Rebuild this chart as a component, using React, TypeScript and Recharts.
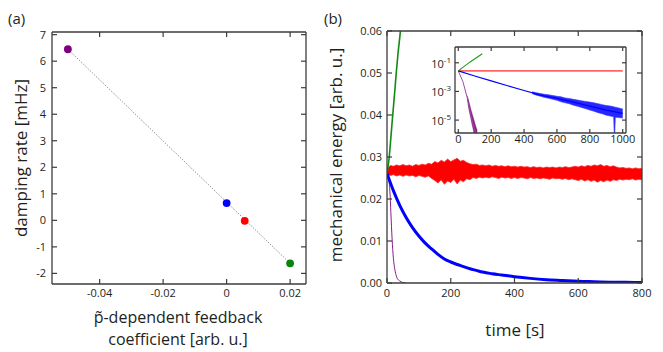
import React from 'react';
import { ComposedChart, Line, Area, Scatter, XAxis, YAxis, Cell } from 'recharts';

const FONT = '"Open Sans", "Noto Sans", sans-serif';
const INK = '#231f20';
const FRAME = '#3c3c3c';

// (a) damping rate vs feedback coefficient
const coeffs = [-0.05, 0, 0.0057, 0.02];
const damping = [6.45, 0.65, -0.02, -1.62];
const dotColors = ['#800080', '#0000ff', '#ff0000', '#0a840a'];
const fitX = [-0.05, 0.02];
const fitY = [6.45, -1.62];
const aTicksX = [-0.04, -0.02, 0, 0.02];
const aTicksY = [-2, -1, 0, 1, 2, 3, 4, 5, 6, 7];

// (b) mechanical energy vs time
const bTicksX = [0, 200, 400, 600, 800];
const bTicksY = [0, 0.01, 0.02, 0.03, 0.04, 0.05, 0.06];

const purpleT = [0, 4, 8, 10, 12, 14, 16, 18, 20, 24, 28, 32, 40, 50, 60];
const purpleE = [0.026, 0.025, 0.023, 0.0205, 0.017, 0.0135, 0.0105, 0.008, 0.0059, 0.0035, 0.002, 0.0011, 0.0005, 0.0001, 0];

const blueT = [0, 20, 40, 60, 80, 100, 120, 140, 160, 180, 200, 220, 240, 260, 280, 300, 330, 360, 400, 450, 500, 550, 600, 650, 700, 750, 800];
const blueE = [0.0261, 0.022, 0.0185, 0.0156, 0.0132, 0.0112, 0.0095, 0.0081, 0.0068, 0.0057, 0.005, 0.0044, 0.0039, 0.0034, 0.003, 0.0026, 0.0022, 0.0019, 0.0015, 0.0011, 0.0008, 0.0006, 0.0004, 0.0003, 0.0002, 0.00015, 0.0001];

const greenT = [0, 7, 12, 18, 24, 29, 35, 42, 45];
const greenE = [0.026, 0.03, 0.0345, 0.04, 0.0453, 0.05, 0.055, 0.06, 0.063];

// red trace: noise envelope read every 10 s
const redT = [
  0, 10, 20, 30, 40, 50, 60, 70, 80, 90, 100, 110, 120, 130, 140, 150, 160, 170, 180, 190,
  200, 210, 220, 230, 240, 250, 260, 270, 280, 290, 300, 310, 320, 330, 340, 350, 360, 370, 380, 390,
  400, 410, 420, 430, 440, 450, 460, 470, 480, 490, 500, 510, 520, 530, 540, 550, 560, 570, 580, 590,
  600, 610, 620, 630, 640, 650, 660, 670, 680, 690, 700, 710, 720, 730, 740, 750, 760, 770, 780, 790, 800,
];
const redLo = [
  0.0259, 0.0256, 0.0258, 0.0255, 0.0257, 0.0254, 0.0257, 0.0255, 0.0256, 0.0253, 0.0256, 0.0254, 0.0252, 0.0255, 0.0249, 0.0244, 0.0238, 0.0246, 0.0235, 0.0243,
  0.0239, 0.0247, 0.0236, 0.0245, 0.0241, 0.0248, 0.0246, 0.0251, 0.0249, 0.0252, 0.025, 0.0252, 0.025, 0.0253, 0.0251, 0.0249, 0.0252, 0.025, 0.0251, 0.0249,
  0.0251, 0.0249, 0.0251, 0.025, 0.0248, 0.0251, 0.0249, 0.025, 0.0248, 0.025, 0.0249, 0.0247, 0.025, 0.0248, 0.0249, 0.0247, 0.0249, 0.0246, 0.0248, 0.0246,
  0.0244, 0.0247, 0.0243, 0.0246, 0.0242, 0.0245, 0.024, 0.0244, 0.0241, 0.0245, 0.0242, 0.0246, 0.0244, 0.0247, 0.0245, 0.0247, 0.0246, 0.0248, 0.0245, 0.0247, 0.0246,
];
const redHi = [
  0.027, 0.028, 0.0278, 0.0281, 0.0279, 0.0282, 0.0279, 0.0281, 0.0278, 0.0282, 0.028, 0.0283, 0.0281, 0.0285, 0.0283, 0.0289, 0.0286, 0.0292, 0.0288, 0.0295,
  0.0289, 0.0293, 0.0297, 0.029, 0.0292, 0.0287, 0.0284, 0.0282, 0.0283, 0.028, 0.0281, 0.0279, 0.0281, 0.0278, 0.028, 0.0278, 0.0279, 0.0277, 0.0279, 0.0277,
  0.0278, 0.0276, 0.0278, 0.0276, 0.0277, 0.0275, 0.0277, 0.0275, 0.0276, 0.0274, 0.0276, 0.0275, 0.0276, 0.0274, 0.0276, 0.0275, 0.0277, 0.0275, 0.0276, 0.0278,
  0.0276, 0.0279, 0.0277, 0.028, 0.0278, 0.0281, 0.0279, 0.0282, 0.0278, 0.028, 0.0277, 0.0279, 0.0276, 0.0274, 0.0275, 0.0273, 0.0274, 0.0272, 0.0274, 0.0272, 0.0273,
];

// inset (log scale)
const inTicksX = [0, 200, 400, 600, 800, 1000];
const inTicksY = [1e-5, 1e-3, 1e-1];
const inRedT = [0, 1000];
const inRedE = [0.027, 0.027];
const inGreenT = [0, 70, 146];
const inGreenE = [0.027, 0.11, 0.43];
const inBlueT = [0, 100, 200, 300, 400, 500, 600, 700, 800, 900, 1000];
const inBlueE = [0.0269, 0.012, 0.0055, 0.00251, 0.00117, 0.00056, 0.00033, 0.000178, 0.0000955, 0.0000501, 0.0000295];
const inBlueBandT = [450, 475, 500, 525, 550, 575, 600, 625, 650, 675, 700, 725, 750, 775, 800, 825, 850, 875, 900, 925, 945, 950, 955, 975, 1000];
const inBlueLo = [6.9e-4, 5.5e-4, 4.6e-4, 3.8e-4, 3.3e-4, 2.8e-4, 2.4e-4, 1.9e-4, 1.6e-4, 1.4e-4, 1.1e-4, 9.1e-5, 7.6e-5, 6.3e-5, 5e-5, 4.2e-5, 3.3e-5, 2.8e-5, 2.2e-5, 1.9e-5, 1.7e-5, 3e-7, 1.6e-5, 1.5e-5, 1.4e-5];
const inBlueHi = [9.5e-4, 8.1e-4, 7.1e-4, 6.3e-4, 5.8e-4, 5.2e-4, 4.6e-4, 4.2e-4, 3.5e-4, 3.2e-4, 2.8e-4, 2.5e-4, 2.2e-4, 2e-4, 1.8e-4, 1.6e-4, 1.4e-4, 1.2e-4, 1.05e-4, 9.5e-5, 8.6e-5, 8.3e-5, 8e-5, 7.1e-5, 6e-5];
const inPurpleT = [0, 28, 58, 79, 95, 112];
const inPurpleE = [0.027, 0.0049, 0.00025, 0.000017, 0.000003, 0.0000009];
const inPurpleBandT = [55, 65, 75, 85, 95, 105, 115];
const inPurpleLo = [2.8e-4, 5.6e-5, 1.6e-5, 4.5e-6, 1.4e-6, 5e-7, 2.5e-7];
const inPurpleHi = [5e-4, 1.8e-4, 6.3e-5, 2.5e-5, 1e-5, 4e-6, 1.8e-6];

const pts = (xs: number[], ys: number[]) => xs.map((x, i) => ({ x, y: ys[i] }));
const band = (xs: number[], lo: number[], hi: number[]) => xs.map((x, i) => ({ x, y: [lo[i], hi[i]] }));

const axisLine = { stroke: FRAME, strokeWidth: 1.3 };
const tickLine = { stroke: FRAME, strokeWidth: 1.2 };
const tickStyle = { fontSize: 11, fill: INK, fontFamily: FONT };
const NoLabel = () => <g />;

const fmtA = (v: number) => (v === 0 ? '0' : v.toFixed(2));
const fmtB = (v: number) => v.toFixed(2);

const DotShape = (p: any) => <circle cx={p.cx} cy={p.cy} r={3.9} fill={p.fill} />;

const LogTick = (p: any) => (
  <text x={p.x} y={p.y} dy={5} textAnchor="end" fontSize={11} fontFamily={FONT} fill={INK}>
    10<tspan dy={-5} fontSize={8}>{Math.round(Math.log10(p.payload.value))}</tspan>
  </text>
);

// inward ticks on all four sides: negative tickSize, top/right axes carry no labels
const common = { type: 'number' as const, allowDataOverflow: true, interval: 0 as const, tickLine, axisLine };

const PanelA = () => (
  <ComposedChart width={330} height={352} margin={{ top: 31, right: 23, bottom: 48, left: 0 }}>
    <XAxis xAxisId="b" dataKey="x" domain={[-0.055, 0.025]} ticks={aTicksX} height={20} tickSize={-5} tickMargin={10} tick={tickStyle} tickFormatter={fmtA} {...common} />
    <XAxis xAxisId="t" orientation="top" dataKey="x" domain={[-0.055, 0.025]} ticks={aTicksX} height={1} tickSize={-5} tick={NoLabel} {...common} />
    <YAxis yAxisId="l" dataKey="y" domain={[-2.4, 7.1]} ticks={aTicksY} width={52} tickSize={-5} tickMargin={11} tick={tickStyle} {...common} />
    <YAxis yAxisId="r" orientation="right" dataKey="y" domain={[-2.4, 7.1]} ticks={aTicksY} width={1} tickSize={-5} tick={NoLabel} {...common} />
    <Line xAxisId="t" yAxisId="r" data={pts(fitX, fitY)} dataKey="y" stroke="none" dot={false} isAnimationActive={false} />
    <Line xAxisId="b" yAxisId="l" data={pts(fitX, fitY)} dataKey="y" type="linear" stroke="#6e6e6e" strokeWidth={1}
      strokeDasharray="1 1.6" dot={false} isAnimationActive={false} />
    <Scatter xAxisId="b" yAxisId="l" data={pts(coeffs, damping)} dataKey="y" shape={DotShape} isAnimationActive={false}>
      {coeffs.map((c, i) => <Cell key={c} fill={dotColors[i]} />)}
    </Scatter>
  </ComposedChart>
);

const PanelB = () => (
  <ComposedChart width={333} height={352} margin={{ top: 30, right: 20, bottom: 49, left: 0 }}>
    <XAxis xAxisId="b" dataKey="x" domain={[0, 800]} ticks={bTicksX} height={20} tickSize={-5} tickMargin={11} tick={tickStyle} {...common} />
    <XAxis xAxisId="t" orientation="top" dataKey="x" domain={[0, 800]} ticks={bTicksX} height={1} tickSize={-5} tick={NoLabel} {...common} />
    <YAxis yAxisId="l" domain={[0, 0.06]} ticks={bTicksY} width={57} tickSize={-5} tickMargin={10} tick={tickStyle} tickFormatter={fmtB} {...common} />
    <YAxis yAxisId="r" orientation="right" domain={[0, 0.06]} ticks={bTicksY} width={1} tickSize={-5} tick={NoLabel} {...common} />
    <Line xAxisId="t" yAxisId="r" data={pts(blueT, blueE)} dataKey="y" stroke="none" dot={false} isAnimationActive={false} />
    <Line xAxisId="b" yAxisId="l" data={pts(purpleT, purpleE)} dataKey="y" type="monotone" stroke="#8b1a8b" strokeWidth={1}
      dot={false} isAnimationActive={false} />
    <Line xAxisId="b" yAxisId="l" data={pts(blueT, blueE)} dataKey="y" type="monotone" stroke="#0000ff" strokeWidth={3}
      dot={false} isAnimationActive={false} />
    <Area xAxisId="b" yAxisId="l" data={band(redT, redLo, redHi)} dataKey="y" type="linear" stroke="#ff2a2a" strokeWidth={0.8}
      fill="#ff0000" fillOpacity={1} isAnimationActive={false} />
    <Line xAxisId="b" yAxisId="l" data={pts(greenT, greenE)} dataKey="y" type="monotone" stroke="#128a12" strokeWidth={1.6}
      dot={false} isAnimationActive={false} />
  </ComposedChart>
);

const Inset = () => (
  <ComposedChart width={225} height={112} margin={{ top: 6, right: 8, bottom: 5, left: 0 }}>
    <XAxis xAxisId="b" dataKey="x" domain={[-20, 1020]} ticks={inTicksX} height={14} tickSize={-4} tickMargin={6} tick={tickStyle} {...common} />
    <XAxis xAxisId="t" orientation="top" dataKey="x" domain={[-20, 1020]} ticks={inTicksX} height={1} tickSize={-4} tick={NoLabel} {...common} />
    <YAxis yAxisId="l" scale="log" domain={[1.26e-6, 1.26]} ticks={inTicksY} width={45} tickSize={-4} tickMargin={8} tick={<LogTick />} {...common} />
    <YAxis yAxisId="r" orientation="right" scale="log" domain={[1.26e-6, 1.26]} ticks={inTicksY} width={1} tickSize={-4} tick={NoLabel} {...common} />
    <Line xAxisId="t" yAxisId="r" data={pts(inRedT, inRedE)} dataKey="y" stroke="none" dot={false} isAnimationActive={false} />
    <Line xAxisId="b" yAxisId="l" data={pts(inRedT, inRedE)} dataKey="y" type="linear" stroke="#ff3030" strokeOpacity={0.75}
      strokeWidth={1.8} dot={false} isAnimationActive={false} />
    <Line xAxisId="b" yAxisId="l" data={pts(inPurpleT, inPurpleE)} dataKey="y" type="linear" stroke="#a04aa0" strokeWidth={1}
      dot={false} isAnimationActive={false} />
    <Area xAxisId="b" yAxisId="l" data={band(inPurpleBandT, inPurpleLo, inPurpleHi)} dataKey="y" type="linear"
      stroke="#7a0a7a" strokeWidth={0.5} fill="#7a0a7a" fillOpacity={0.9} isAnimationActive={false} />
    <Line xAxisId="b" yAxisId="l" data={pts(inBlueT, inBlueE)} dataKey="y" type="linear" stroke="#0000ff" strokeWidth={1.2}
      dot={false} isAnimationActive={false} />
    <Area xAxisId="b" yAxisId="l" data={band(inBlueBandT, inBlueLo, inBlueHi)} dataKey="y" type="linear"
      stroke="#3030ff" strokeWidth={0.6} fill="#0000ff" fillOpacity={0.85} isAnimationActive={false} />
    <Line xAxisId="b" yAxisId="l" data={pts(inGreenT, inGreenE)} dataKey="y" type="linear" stroke="#1f9a1f" strokeWidth={1.1}
      dot={false} isAnimationActive={false} />
  </ComposedChart>
);

const titleStyle = { fontFamily: FONT, fontSize: 17, fill: INK };

export default function App() {
  return (
    <div style={{ position: 'fixed', left: 0, top: 0, width: 663, height: 352, background: '#fff', overflow: 'hidden' }}>
      <div style={{ position: 'absolute', left: 0, top: 0 }}><PanelA /></div>
      <div style={{ position: 'absolute', left: 330, top: 0 }}><PanelB /></div>
      <div style={{ position: 'absolute', left: 410, top: 40 }}><Inset /></div>
      <svg width={663} height={352} style={{ position: 'absolute', left: 0, top: 0, pointerEvents: 'none' }}>
        <text x={8} y={24} fontFamily={FONT} fontSize={15} fill={INK}>(a)</text>
        <text x={324} y={24} fontFamily={FONT} fontSize={15} fill={INK}>(b)</text>
        <text transform="translate(20,158) rotate(-90)" textAnchor="middle" dominantBaseline="central" {...titleStyle}>damping rate [mHz]</text>
        <text x={178} y={323} textAnchor="middle" {...titleStyle} fontSize={16}>p̃-dependent feedback</text>
        <text x={178} y={345} textAnchor="middle" {...titleStyle} fontSize={16}>coefficient [arb. u.]</text>
        <text transform="translate(335,155) rotate(-90)" textAnchor="middle" dominantBaseline="central" {...titleStyle}>mechanical energy [arb. u.]</text>
        <text x={515} y={336} textAnchor="middle" {...titleStyle}>time [s]</text>
      </svg>
    </div>
  );
}
